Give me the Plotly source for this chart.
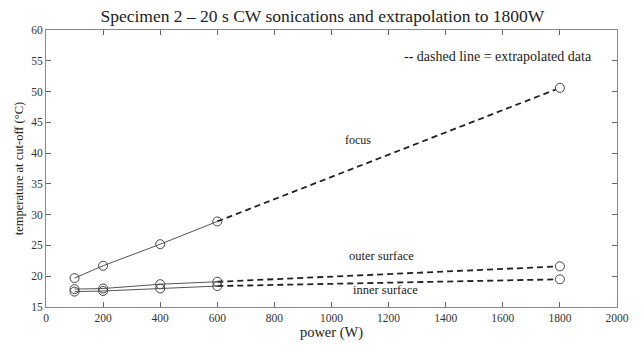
import plotly.graph_objects as go

power = [100, 200, 400, 600]
extrap_power = [600, 1800]
focus = [19.7, 21.7, 25.2, 28.9]
focus_ext = [28.9, 50.6]
outer = [17.9, 18.0, 18.7, 19.1]
outer_ext = [19.1, 21.6]
inner = [17.5, 17.6, 18.0, 18.4]
inner_ext = [18.4, 19.5]

x_ticks = [0, 200, 400, 600, 800, 1000, 1200, 1400, 1600, 1800, 2000]
y_ticks = [15, 20, 25, 30, 35, 40, 45, 50, 55, 60]

font = "Liberation Serif"
fig = go.Figure()
for meas, ext in [(focus, focus_ext), (outer, outer_ext), (inner, inner_ext)]:
    fig.add_trace(go.Scatter(x=extrap_power, y=ext, mode="lines",
                             line=dict(color="#222", width=1.8, dash="6px,4px"),
                             showlegend=False))
    fig.add_trace(go.Scatter(x=power, y=meas, mode="lines+markers",
                             line=dict(color="#555", width=1),
                             marker=dict(symbol="circle-open", size=9, color="#444", line=dict(width=1)),
                             showlegend=False))
    fig.add_trace(go.Scatter(x=[extrap_power[1]], y=[ext[1]], mode="markers",
                             marker=dict(symbol="circle", size=9, color="white",
                                         line=dict(width=1, color="#444")),
                             showlegend=False))

axis_common = dict(showgrid=False, zeroline=False, showline=True, linecolor="#888", linewidth=1,
                   ticks="inside", ticklen=5, tickcolor="#666", mirror="ticks",
                   tickfont=dict(family=font, size=11.5, color="#333"))
fig.update_xaxes(range=[0, 2000], tickvals=x_ticks,
                 title=dict(text="power (W)", font=dict(family=font, size=14.5, color="#222"), standoff=2),
                 **axis_common)
fig.update_yaxes(range=[15, 60], tickvals=y_ticks,
                 title=dict(text="temperature at cut-off (°C)", font=dict(family=font, size=12.5, color="#222"), standoff=4),
                 **axis_common)

ann = [("-- dashed line = extrapolated data", 1583, 55.7, 14),
       ("focus", 1092, 42.1, 12),
       ("outer surface", 1176, 23.3, 12.5),
       ("inner surface", 1190, 17.7, 12.5)]
for t, x, y, s in ann:
    fig.add_annotation(x=x, y=y, text=t, showarrow=False, font=dict(family=font, size=s, color="#222"))

fig.update_layout(width=641, height=348, margin=dict(l=46, r=20, t=30, b=41),
                  paper_bgcolor="white", plot_bgcolor="white",
                  title=dict(text="Specimen 2 – 20 s CW sonications and extrapolation to 1800W",
                             x=0.503, xanchor="center", y=0.955, yanchor="middle",
                             font=dict(family=font, size=17.5, color="#222")))
fig.write_html("out.html")
